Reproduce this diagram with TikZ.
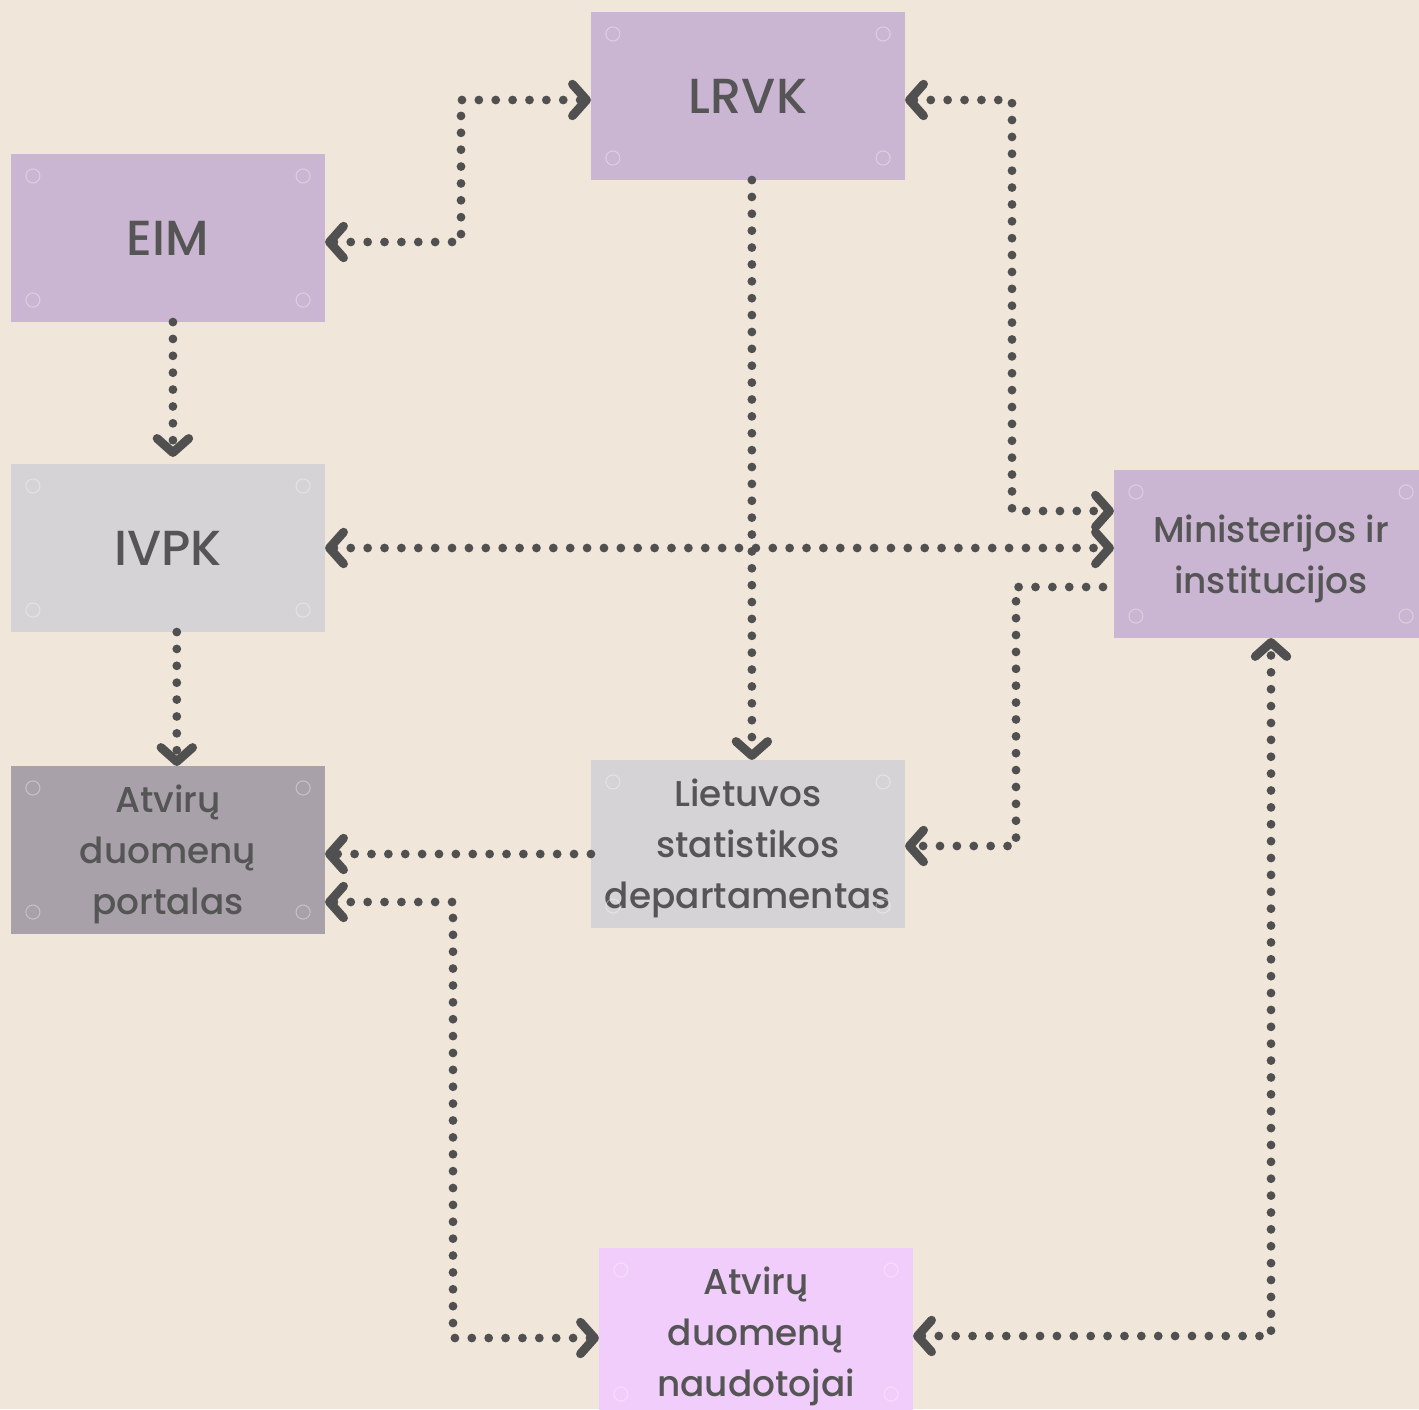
\documentclass[tikz,border=0pt]{standalone}
\usepackage{fontspec}
\setmainfont{Poppins}[UprightFont=*-Medium]
\usetikzlibrary{arrows.meta}

\definecolor{fonas}{HTML}{F0E7DA}
\definecolor{lila}{HTML}{CAB5D2}
\definecolor{pilka}{HTML}{D6D3D7}
\definecolor{tamsi}{HTML}{A8A1A9}
\definecolor{rozine}{HTML}{F0CDFB}
\definecolor{tekstas}{HTML}{555555}
\definecolor{linija}{HTML}{505050}

\tikzset{
  box/.style={minimum width=3.14cm, minimum height=1.68cm, inner sep=0pt, outer sep=0pt,
    text=tekstas, align=center, font=\fontsize{10.2}{14.5}\selectfont},
  big/.style={font=\fontsize{14}{16}\selectfont},
  multi/.style={text depth=-1.8pt},
  link/.style={draw=linija, line width=2.5pt, line cap=round, dash pattern=on 0pt off 4.8pt},
  dotring/.style={draw=white, opacity=0.35, line width=0.3pt},
}

\begin{document}
\begin{tikzpicture}[x=0.01cm, y=-0.01cm, >={Straight Barb[length=4pt,width=9pt,round]}]
                \fill[fonas] (0,0) rectangle (1419,1409);
                \clip (0,0) rectangle (1419,1409);

                \node[box, big, fill=lila]     (lrvk)   at (748,96)   {LRVK};
                \node[box, big, fill=lila]     (eim)    at (168,238)  {EIM};
                \node[box, big, fill=pilka]    (ivpk)   at (168,548)  {IVPK};
                \node[box, multi, fill=tamsi]  (portal) at (168,850)  {Atvirų\\duomenų\\portalas};
                \node[box, multi, fill=pilka]  (stat)   at (748,844)  {Lietuvos\\statistikos\\departamentas};
                \node[box, multi, fill=lila]   (min)    at (1271,554) {Ministerijos ir\\institucijos};
                \node[box, multi, fill=rozine] (naud)   at (756,1332) {Atvirų\\duomenų\\naudotojai};

                \foreach \n in {lrvk,eim,ivpk,portal,stat,min,naud}{
                    \draw[dotring] ([shift={(22,22)}]\n.north west)   circle (2pt);
                    \draw[dotring] ([shift={(-22,22)}]\n.north east)  circle (2pt);
                    \draw[dotring] ([shift={(22,-22)}]\n.south west)  circle (2pt);
                    \draw[dotring] ([shift={(-22,-22)}]\n.south east) circle (2pt);
                }

                \coordinate (minout) at (1103,587);

                \draw[link,<->] (eim.east |- 0,242) -| (461,100) -- (lrvk.west |- 0,100);
                \draw[link,<->] (lrvk.east |- 0,100) -| (1012,511) -- (min.west |- 0,511);
                \draw[link,->]  ([xshift=1.1pt]lrvk.south) -- ([xshift=1.1pt]stat.north);
                \draw[link,->,shorten >=2pt]  ([xshift=1.4pt]eim.south) -- ([xshift=1.4pt]ivpk.north);
                \draw[link,<->] (ivpk.east) -- (min.west |- ivpk.east);
                \draw[link,->]  ([xshift=2.5pt]ivpk.south) -- ([xshift=2.5pt]portal.north);
                \draw[link,->]  (minout) -| (1016,846) -- (stat.east |- 0,846);
                \draw[link,->]  (stat.west |- 0,854) -- (portal.east |- 0,854);
                \draw[link,<->] (portal.east |- 0,902) -| (453,1338) -- (naud.west |- 0,1338);
                \draw[link,<->] (naud.east |- 0,1336) -| (min.south);
\end{tikzpicture}
\end{document}
